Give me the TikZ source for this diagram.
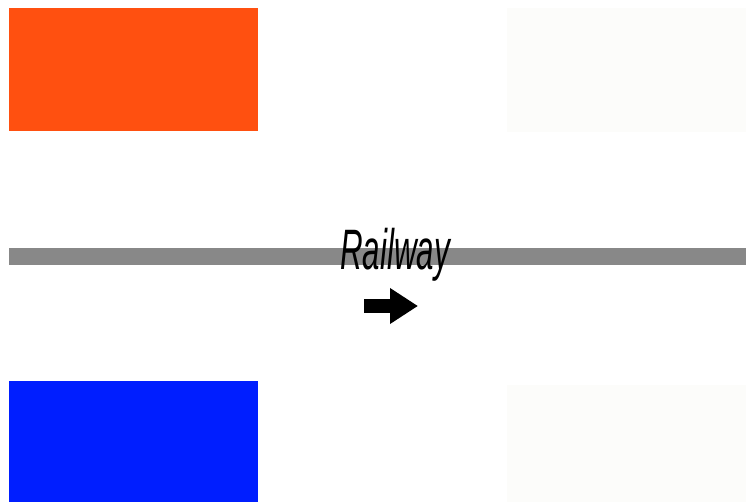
\documentclass[tikz,border=0pt]{standalone}
\usepackage{fontspec}
\setmainfont{Liberation Sans}
\newfontfamily\railfont[FakeStretch=0.55]{Liberation Sans}
\usepackage{xcolor}
\usepackage{tikz}
\usetikzlibrary{positioning,arrows.meta}
\definecolor{zoneorange}{RGB}{255,80,16}
\definecolor{zoneblue}{RGB}{0,30,255}
\definecolor{zonefaint}{RGB}{252,252,250}
\definecolor{railgray}{RGB}{136,136,136}
\tikzset{
  zone/.style={draw=none, inner sep=0pt, anchor=north west, minimum width=249pt, minimum height=123pt},
  faint/.style={draw=none, inner sep=0pt, anchor=north west, fill=zonefaint, minimum width=239pt},
  rail/.style={draw=railgray, line width=17pt},
  dirarr/.style={-{Triangle[length=28pt,width=34pt]}, line width=14pt, draw=black},
}

\begin{document}
\begin{tikzpicture}[x=1pt,y=-1pt]
    \useasboundingbox (0,0) rectangle (746,502);
    \node[zone, fill=zoneorange] (orange) at (9,8) {};
    \node[zone, fill=zoneblue, minimum height=121pt] (blue) at (9,381) {};
    \node[faint, minimum height=124pt] (faintup) at (507,8) {};
    \node[faint, minimum height=117pt] (faintdown) at (507,385) {};
    % track
    \coordinate (railW) at (9,257);
    \coordinate (railE) at (746,257);
    \draw[rail] (railW) -- (railE);
    \node[anchor=base, inner sep=0pt, font=\railfont\itshape\fontsize{57}{60}\selectfont] (label) at (395,270) {Railway};
    % direction
    \coordinate (dirW) at (364,306);
    \coordinate (dirE) at (418,306);
    \draw[dirarr] (dirW) -- (dirE);
  \end{tikzpicture}
\end{document}
